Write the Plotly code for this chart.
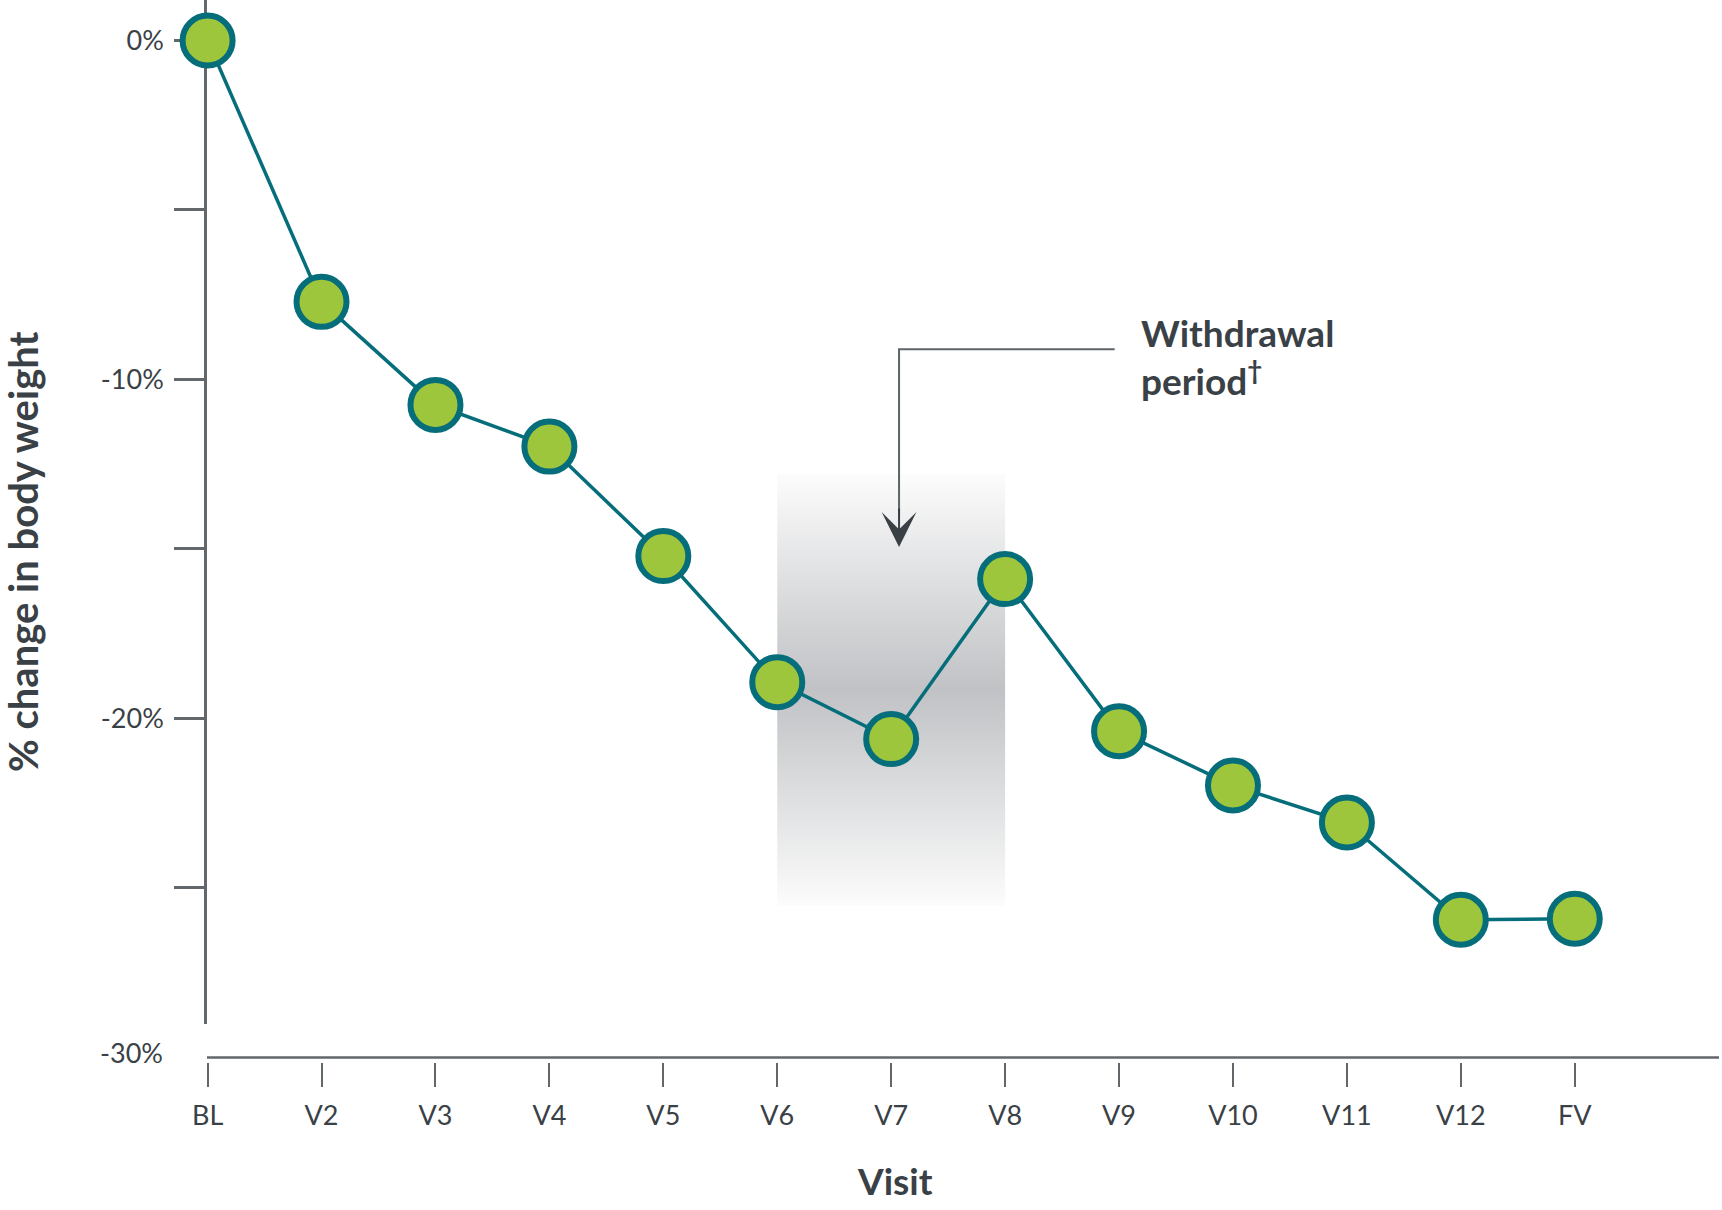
import plotly.graph_objects as go

# ---- data ----
visits = ["BL", "V2", "V3", "V4", "V5", "V6", "V7", "V8", "V9", "V10", "V11", "V12", "FV"]
pct_change = [0, -7.71, -10.75, -11.98, -15.21, -18.93, -20.61, -15.89, -20.38, -21.98, -23.07, -25.94, -25.91]

y_tick_vals = [0, -5, -10, -15, -20, -25]
y_tick_text = ["0%", "", "-10%", "", "-20%", ""]
bottom_label = "-30%"

withdrawal_start = "V6"
withdrawal_end = "V8"
withdrawal_top = -12.79
withdrawal_bottom = -25.53

TEXT = "#3a4146"
AXIS = "#62676c"
TEAL = "#066e7b"
GREEN = "#9ec63c"
FONT = "Lato"

W, H = 1722, 1210
ML, MR, MT, MB = 207, 3, 0, 148
PW = W - ML - MR
PH = H - MT - MB

def py(pix):  # pixel row -> paper y
    return (H - MB - pix) / PH

def px(pix):  # pixel column -> paper x
    return (pix - ML) / PW

fig = go.Figure()

# withdrawal band (vertical gradient)
fig.add_trace(go.Scatter(
    x=[withdrawal_start, withdrawal_end, withdrawal_end, withdrawal_start, withdrawal_start],
    y=[withdrawal_top, withdrawal_top, withdrawal_bottom, withdrawal_bottom, withdrawal_top],
    mode="lines", line=dict(width=0), fill="toself",
    fillgradient=dict(type="vertical",
                      colorscale=[[0, "#fcfcfc"], [0.5, "#c0c2c5"], [1, "#fcfcfc"]]),
    hoverinfo="skip", showlegend=False,
))

# main series
fig.add_trace(go.Scatter(
    x=visits, y=pct_change, mode="lines+markers",
    line=dict(color=TEAL, width=3.5),
    marker=dict(size=50, color=GREEN, line=dict(color=TEAL, width=6)),
    cliponaxis=False, showlegend=False,
))

x_arrow = 6.069
fig.add_shape(type="path", xref="x", yref="y",
              path=f"M {x_arrow},-14.0 L {x_arrow},-9.11 L 7.962,-9.11",
              line=dict(color="#5f6469", width=2))

# x-axis line
fig.add_shape(type="line", xref="paper", yref="paper", x0=0, x1=1, layer="below",
              y0=py(1057.6), y1=py(1057.6), line=dict(color=AXIS, width=2.5))

annotations = [
    dict(x=x_arrow, y=-14.94, xref="x", yref="y", ax=0, ay=-40, text="",
         showarrow=True, arrowhead=3, arrowsize=2.9, arrowwidth=2, arrowcolor=TEXT),
    dict(x=8.175, y=-9.33, xref="x", yref="y", text="<b>Withdrawal<br>period<sup>†</sup></b>",
         showarrow=False, align="left",
         xanchor="left", yanchor="middle", font=dict(family=FONT, size=37, color=TEXT)),
    dict(x=6.03, y=py(1180.6), xref="x", yref="paper", text="<b>Visit</b>", showarrow=False,
         xanchor="center", yanchor="middle", font=dict(family=FONT, size=37, color=TEXT)),
    dict(x=px(23), y=py(552), xref="paper", yref="paper", text="<b>% change in body weight</b>",
         textangle=-90, showarrow=False, xanchor="center", yanchor="middle",
         font=dict(family=FONT, size=40, color=TEXT)),
    dict(x=px(165), y=py(1052), xref="paper", yref="paper", text=bottom_label, showarrow=False,
         xanchor="right", yanchor="middle", font=dict(family=FONT, size=27, color=TEXT)),
]

fig.update_layout(
    width=W, height=H,
    margin=dict(l=ML, r=MR, t=MT, b=MB, pad=0, autoexpand=False),
    paper_bgcolor="white", plot_bgcolor="white",
    showlegend=False,
    annotations=annotations,
    font=dict(family=FONT, color=TEXT),
    xaxis=dict(
        type="category", categoryorder="array", categoryarray=visits,
        range=[-0.0053, 13.266], anchor="free", position=0, layer="below traces",
        showline=False, showgrid=False, zeroline=False, automargin=False,
        ticks="outside", ticklen=24, tickwidth=2, tickcolor=AXIS,
        tickfont=dict(family=FONT, size=27, color=TEXT),
        ticklabelstandoff=6,
    ),
    yaxis=dict(
        domain=[py(1023.5), 1], range=[-29.0, 1.195], layer="below traces",
        tickvals=y_tick_vals, ticktext=y_tick_text,
        showline=True, linecolor=AXIS, linewidth=2.5,
        showgrid=False, zeroline=False, automargin=False,
        ticks="outside", ticklen=30, tickwidth=2.5, tickcolor=AXIS,
        tickfont=dict(family=FONT, size=27, color=TEXT),
        ticklabelstandoff=5,
    ),
)

fig.write_html("out.html", config={"displayModeBar": False},
               post_script="document.body.style.margin='0px';")
